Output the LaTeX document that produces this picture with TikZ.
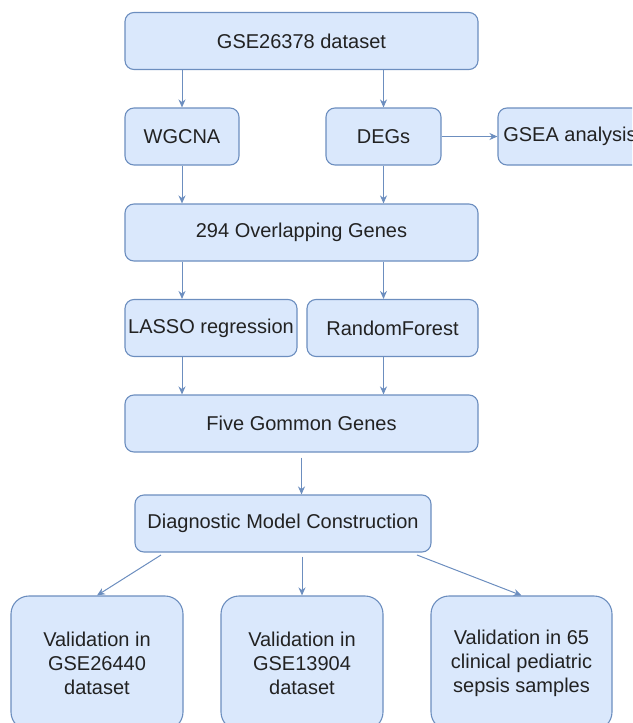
\documentclass[tikz,border=0pt]{standalone}
\usepackage{fontspec}
\setmainfont{Liberation Sans}
\usetikzlibrary{positioning,arrows.meta}

\definecolor{boxfill}{HTML}{DAE8FC}
\definecolor{boxline}{HTML}{6C8EBF}
\definecolor{boxtext}{HTML}{222222}

\tikzset{
  box/.style={draw=boxline, fill=boxfill, line width=1.1pt, rounded corners=9pt,
    minimum height=57pt, inner sep=2pt, text=boxtext, align=center,
    font=\fontsize{20}{24}\selectfont},
  bigbox/.style={box, rounded corners=18pt, minimum height=134pt},
  arr/.style={color=boxline, line width=1pt, -{Stealth[length=8pt,width=7pt]}}
}

\begin{document}
\begin{tikzpicture}[x=1pt,y=-1pt,node distance=95.5pt,on grid]
	\useasboundingbox (0,0) rectangle (632,723);
	\clip (0,0) rectangle (632,723);
	\node[box,minimum width=353pt] (gse) at (301.5,41) {GSE26378 dataset};
	\node[box,minimum width=114pt] (wgcna) [below left=95.5pt and 119.5pt of gse] {WGCNA};
	\node[box,minimum width=115pt] (degs) [below right=95.5pt and 82pt of gse] {DEGs};
	\node[box,minimum width=144pt] (gsea) [right=186.5pt of degs] {GSEA analysis};
	\node[box,minimum width=353pt] (overlap) [below right=96pt and 119.5pt of wgcna] {294 Overlapping Genes};
	\node[box,minimum width=172pt] (lasso) [below left=95.5pt and 90.5pt of overlap] {LASSO regression};
	\node[box,minimum width=171pt] (rf) [right=181.5pt of lasso] {RandomForest};
	\node[box,minimum width=353pt] (five) [below=191pt of overlap] {Five Gommon Genes};
	\node[box,minimum width=296pt] (diag) [below left=100pt and 18.5pt of five] {Diagnostic Model Construction};
	\node[bigbox,minimum width=172pt] (val1) [below left=139.5pt and 186pt of diag] {Validation in\\GSE26440\\dataset};
	\node[bigbox,minimum width=162pt] (val2) [below right=139.5pt and 19pt of diag] {Validation in\\GSE13904\\dataset};
	\node[bigbox,minimum width=181pt] (val3) [below right=139.5pt and 238.5pt of diag] {Validation in 65\\clinical pediatric\\sepsis samples};

	\coordinate (d1) at (161,555);
	\coordinate (d3) at (417,555);

	\path[arr]
	(gse.south -| wgcna) edge (wgcna)
	(gse.south -| degs) edge (degs)
	(degs) edge (gsea)
	(wgcna) edge (overlap.north -| wgcna)
	(degs) edge (overlap.north -| degs)
	(overlap.south -| wgcna) edge (lasso.north -| wgcna)
	(overlap.south -| degs) edge (rf.north -| degs)
	(lasso.south -| wgcna) edge (five.north -| wgcna)
	(rf.south -| degs) edge (five.north -| degs)
	([yshift=-5pt]five.south) edge (diag.north -| five)
	(d1) edge (val1.north)
	([yshift=-4pt]diag.south -| val2) edge (val2)
	(d3) edge (val3.north);
\end{tikzpicture}
\end{document}
